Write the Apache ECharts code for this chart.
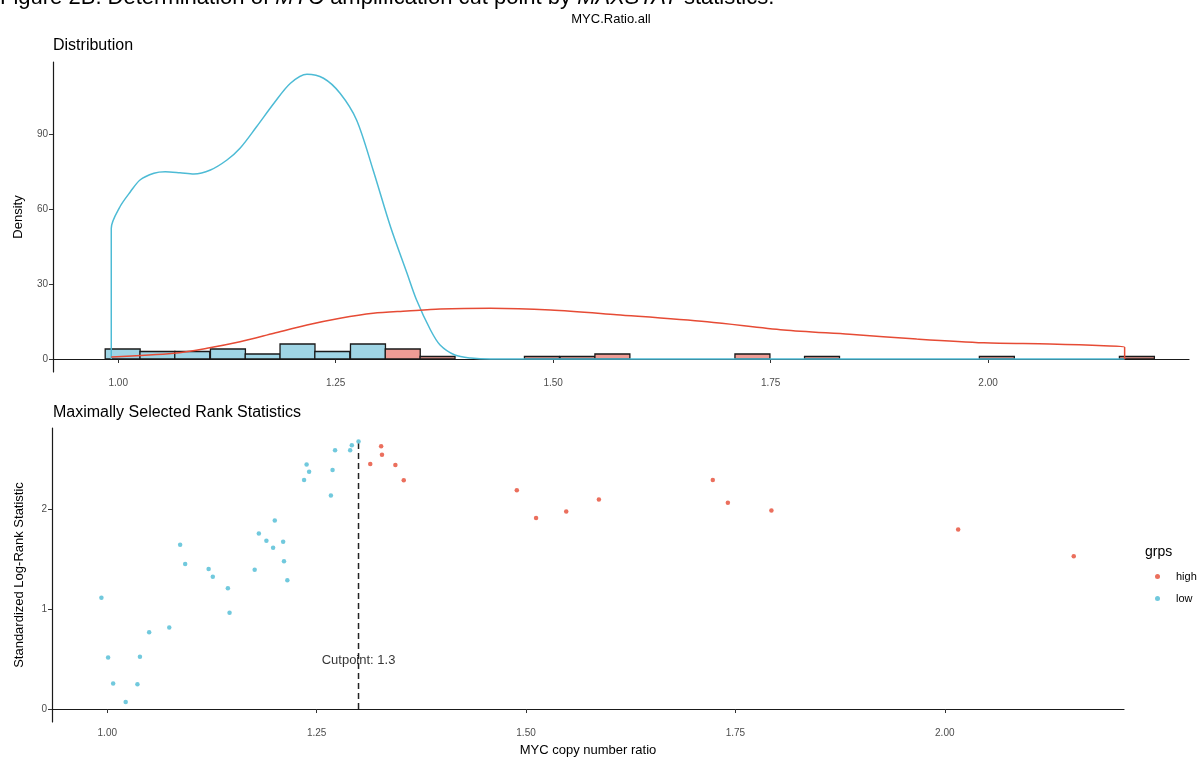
<!DOCTYPE html>
<html>
<head>
<meta charset="utf-8">
<script src="https://cdn.jsdelivr.net/npm/echarts@6/dist/echarts.min.js"></script>
<style>
  html, body { margin: 0; padding: 0; background: #fff; }
  #chart { width: 1203px; height: 758px; }
</style>
</head>
<body>
<div id="chart"></div>
<script>
// tick labels
const xTicks = [1.0, 1.25, 1.5, 1.75, 2.0];
const densTicks = [0, 30, 60, 90];
const statTicks = [0, 1, 2];

// histogram bins (start of bin, count, group)
const binWidth = 0.0402;
const binStart = [0.985, 1.025, 1.065, 1.106, 1.146, 1.186, 1.226, 1.267, 1.307, 1.347, 1.467, 1.508, 1.548, 1.709, 1.789, 1.990, 2.151];
const binCount = [4, 3, 3, 4, 2, 6, 3, 6, 4, 1, 1, 1, 2, 2, 1, 1, 1];
const binGroup = ['low', 'low', 'low', 'low', 'low', 'low', 'low', 'low', 'high', 'high', 'high', 'high', 'high', 'high', 'high', 'high', 'high'];

// density curves
const lowDensX = [0.992, 0.992, 1.002, 1.014, 1.025, 1.041, 1.054, 1.071, 1.087, 1.106, 1.125, 1.140, 1.159, 1.179, 1.198, 1.217, 1.236, 1.255, 1.274, 1.293, 1.313, 1.332, 1.343, 1.359, 1.370, 1.387, 1.405, 1.428, 2.157];
const lowDensY = [0, 52.3, 60.9, 66.9, 71.6, 74.3, 74.9, 74.5, 74.0, 75.6, 79.6, 84.3, 92.9, 102.3, 110.3, 113.9, 112.3, 106.3, 95.6, 75.6, 52.9, 34.3, 23.6, 11.6, 5.6, 1.6, 0.4, 0, 0];
const highDensX = [0.992, 1.064, 1.102, 1.140, 1.179, 1.217, 1.255, 1.293, 1.332, 1.370, 1.428, 1.497, 1.573, 1.677, 1.765, 1.841, 1.918, 1.995, 2.071, 2.133, 2.157, 2.157];
const highDensY = [0.8, 2.3, 4.3, 6.9, 10.3, 13.6, 16.3, 18.3, 19.2, 20.0, 20.3, 19.6, 17.7, 14.9, 11.6, 9.9, 8.0, 6.5, 6.0, 5.3, 4.7, 0];

// maximally selected rank statistics
const lowX = [0.993, 1.001, 1.007, 1.022, 1.036, 1.039, 1.050, 1.074, 1.087, 1.093, 1.121, 1.126, 1.144, 1.146, 1.176, 1.181, 1.190, 1.198, 1.200, 1.210, 1.211, 1.215, 1.235, 1.238, 1.241, 1.267, 1.269, 1.272, 1.290, 1.292, 1.300];
const lowY = [1.114, 0.517, 0.256, 0.070, 0.249, 0.524, 0.769, 0.816, 1.645, 1.453, 1.403, 1.326, 1.211, 0.965, 1.396, 1.758, 1.685, 1.615, 1.888, 1.675, 1.480, 1.291, 2.296, 2.451, 2.378, 2.139, 2.395, 2.594, 2.594, 2.644, 2.680];
const highX = [1.314, 1.327, 1.328, 1.344, 1.354, 1.489, 1.512, 1.548, 1.587, 1.723, 1.741, 1.793, 2.016, 2.154];
const highY = [2.455, 2.634, 2.547, 2.445, 2.292, 2.192, 1.913, 1.980, 2.100, 2.296, 2.067, 1.990, 1.798, 1.532];

const cutpoint = 1.3;

const RED = '#E64B35';
const BLUE = '#4DBBD5';
const FONT = 'Liberation Sans';

function zip(xs, ys) { return xs.map((x, i) => [x, ys[i]]); }

const axisCommon = {
  axisLine: { show: true, lineStyle: { color: '#1a1a1a', width: 1.2 } },
  axisTick: { show: true, length: 4, lineStyle: { color: '#333', width: 1 } },
  splitLine: { show: false },
};

function titleStyle(size) {
  return { fontSize: size, fontWeight: 'normal', color: '#000', fontFamily: FONT };
}

const chart = echarts.init(document.getElementById('chart'));

const option = {
  animation: false,
  textStyle: { fontFamily: FONT },
  title: [
    { text: 'MYC.Ratio.all', left: 611, top: 13, padding: 0, textAlign: 'center', textStyle: titleStyle(13) },
    { text: 'Distribution', left: 53, top: 38, padding: 0, textStyle: titleStyle(16) },
    { text: 'Maximally Selected Rank Statistics', left: 53, top: 405, padding: 0, textStyle: titleStyle(16) },
    { text: 'grps', left: 1145, top: 545, padding: 0, textStyle: titleStyle(14) }
  ],
  graphic: [{
    type: 'text', left: 0, top: -13,
    style: {
      text: '{n|Figure 2B. Determination of }{i|MYC}{n| amplification cut point by }{i|MAXSTAT}{n| statistics.}',
      rich: {
        n: { fontSize: 22, fontFamily: FONT, fill: '#000' },
        i: { fontSize: 22, fontFamily: FONT, fontStyle: 'italic', fill: '#000' }
      }
    }
  }],
  legend: {
    data: ['high', 'low'],
    orient: 'vertical',
    left: 1155, top: 571, padding: 0,
    itemWidth: 5, itemHeight: 5, itemGap: 11,
    icon: 'circle',
    textStyle: { fontSize: 11, color: '#000', padding: [0, 0, 0, 11], fontFamily: FONT }
  },
  grid: [
    { left: 53, right: 14, top: 62, height: 310 },
    { left: 52, right: 79, top: 428, height: 296 }
  ],
  xAxis: [
    Object.assign({}, axisCommon, {
      type: 'value', gridIndex: 0, min: 0.925, max: 2.231,
      axisTick: Object.assign({}, axisCommon.axisTick, { customValues: xTicks }),
      axisLabel: { customValues: xTicks, formatter: v => v.toFixed(2), color: '#4D4D4D', fontSize: 10, margin: 6 }
    }),
    Object.assign({}, axisCommon, {
      type: 'value', gridIndex: 1, min: 0.934, max: 2.214,
      name: 'MYC copy number ratio', nameLocation: 'middle', nameGap: 22,
      nameTextStyle: { fontSize: 13, color: '#000', fontFamily: FONT },
      axisTick: Object.assign({}, axisCommon.axisTick, { customValues: xTicks }),
      axisLabel: { customValues: xTicks, formatter: v => v.toFixed(2), color: '#4D4D4D', fontSize: 10, margin: 6 }
    })
  ],
  yAxis: [
    Object.assign({}, axisCommon, {
      type: 'value', gridIndex: 0, min: -5.2, max: 118.8,
      name: 'Density', nameLocation: 'middle', nameGap: 28,
      nameTextStyle: { fontSize: 13, color: '#000', fontFamily: FONT },
      axisTick: Object.assign({}, axisCommon.axisTick, { customValues: densTicks }),
      axisLabel: { customValues: densTicks, color: '#4D4D4D', fontSize: 10, margin: 5 }
    }),
    Object.assign({}, axisCommon, {
      type: 'value', gridIndex: 1, min: -0.13, max: 2.816,
      name: 'Standardized Log-Rank Statistic', nameLocation: 'middle', nameGap: 26,
      nameTextStyle: { fontSize: 13, color: '#000', fontFamily: FONT },
      axisTick: Object.assign({}, axisCommon.axisTick, { customValues: statTicks }),
      axisLabel: { customValues: statTicks, color: '#4D4D4D', fontSize: 10, margin: 5 }
    })
  ],
  series: [
    {
      name: 'histogram', type: 'custom', xAxisIndex: 0, yAxisIndex: 0, z: 2,
      data: binStart.map((s, i) => [s, s + binWidth, binCount[i], binGroup[i] === 'high' ? 1 : 0]),
      renderItem: function (params, api) {
        const p0 = api.coord([api.value(0), api.value(2)]);
        const p1 = api.coord([api.value(1), 0]);
        const high = api.value(3) === 1;
        return {
          type: 'rect',
          shape: { x: p0[0], y: p0[1], width: p1[0] - p0[0], height: p1[1] - p0[1] },
          style: { fill: high ? '#EE9C95' : '#9FD5E5', stroke: '#1a1a1a', lineWidth: 1.3 }
        };
      }
    },
    {
      name: 'density low', type: 'line', xAxisIndex: 0, yAxisIndex: 0, z: 3,
      data: zip(lowDensX, lowDensY), showSymbol: false, smooth: 0.3,
      lineStyle: { color: BLUE, width: 1.5 }
    },
    {
      name: 'density high', type: 'line', xAxisIndex: 0, yAxisIndex: 0, z: 3,
      data: zip(highDensX, highDensY), showSymbol: false, smooth: 0.3,
      lineStyle: { color: RED, width: 1.5 }
    },
    {
      name: 'high', type: 'scatter', xAxisIndex: 1, yAxisIndex: 1,
      data: zip(highX, highY), symbolSize: 4.5, itemStyle: { color: RED }
    },
    {
      name: 'low', type: 'scatter', xAxisIndex: 1, yAxisIndex: 1,
      data: zip(lowX, lowY), symbolSize: 4.5, itemStyle: { color: BLUE }
    },
    {
      name: 'cutpoint', type: 'line', xAxisIndex: 1, yAxisIndex: 1,
      data: [[cutpoint, 0], [cutpoint, 2.66]], showSymbol: false,
      lineStyle: { color: '#222', width: 1.5, type: [6, 4] }
    },
    {
      name: 'cutpoint label', type: 'scatter', xAxisIndex: 1, yAxisIndex: 1,
      data: [[cutpoint, 0.49]], symbolSize: 1, itemStyle: { color: 'rgba(0,0,0,0)' },
      label: { show: true, position: 'inside', formatter: 'Cutpoint: ' + cutpoint, fontSize: 13, color: '#000', fontFamily: FONT },
      z: 5
    }
  ]
};

chart.setOption(option);
</script>
</body>
</html>
